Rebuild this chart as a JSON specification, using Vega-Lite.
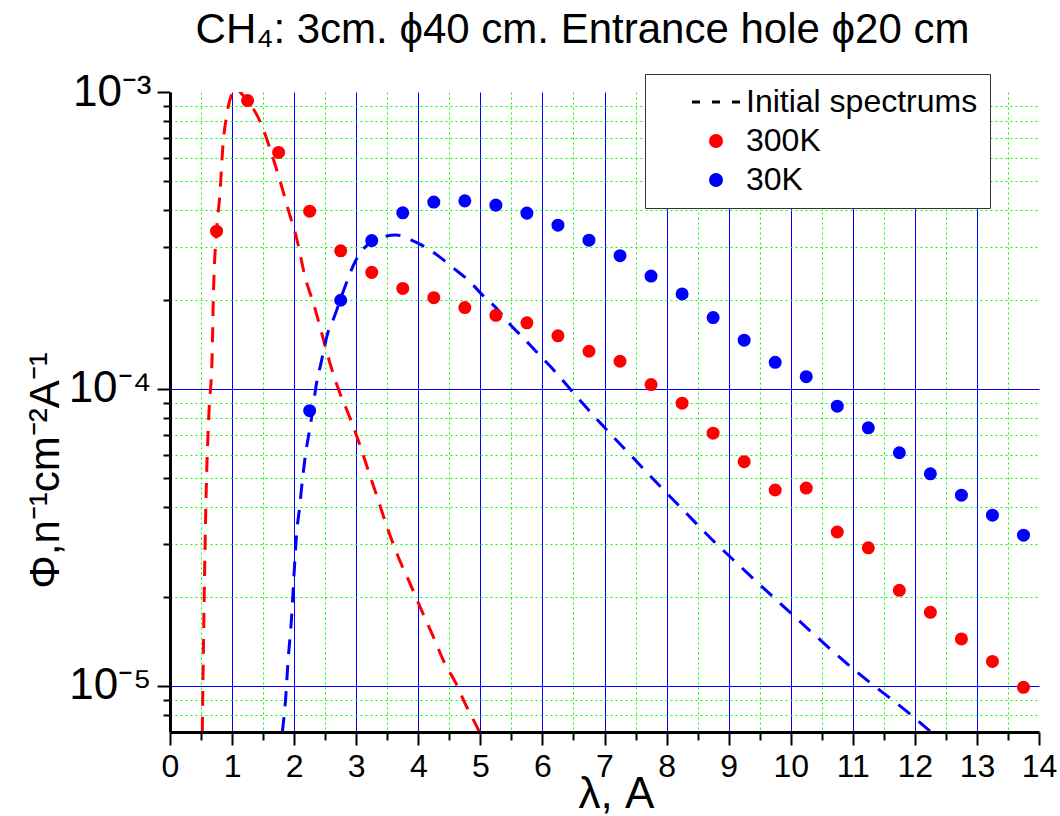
{
  "$schema": "https://vega.github.io/schema/vega-lite/v6.json",
  "width": 869,
  "height": 640,
  "autosize": "none",
  "padding": {"left": 170, "top": 92, "right": 21, "bottom": 84},
  "background": "white",
  "title": {
    "text": "CH₄: 3cm. ϕ40 cm. Entrance hole ϕ20 cm",
    "font": "Liberation Sans",
    "fontSize": 42,
    "fontWeight": "normal",
    "color": "black",
    "anchor": "middle",
    "baseline": "alphabetic",
    "dx": -22,
    "dy": 39,
    "offset": 24
  },
  "config": {
    "view": {"stroke": null},
    "axis": {"labelFont": "Liberation Sans", "titleFont": "Liberation Sans"}
  },
  "datasets": {
    "initial300": [
      {"lambda": 0.52, "flux": 7.0e-6},
      {"lambda": 0.53, "flux": 1.0e-5},
      {"lambda": 0.55, "flux": 1.94e-5},
      {"lambda": 0.58, "flux": 4.25e-5},
      {"lambda": 0.63, "flux": 8.5e-5},
      {"lambda": 0.677, "flux": 1.26e-4},
      {"lambda": 0.70, "flux": 2.1e-4},
      {"lambda": 0.75, "flux": 3.4e-4},
      {"lambda": 0.805, "flux": 4.56e-4},
      {"lambda": 0.85, "flux": 6.5e-4},
      {"lambda": 0.92, "flux": 8.5e-4},
      {"lambda": 1.0, "flux": 9.9e-4},
      {"lambda": 1.07, "flux": 1.04e-3},
      {"lambda": 1.13, "flux": 1.0e-3},
      {"lambda": 1.25, "flux": 9.36e-4},
      {"lambda": 1.466, "flux": 7.83e-4},
      {"lambda": 1.627, "flux": 6.29e-4},
      {"lambda": 1.777, "flux": 4.99e-4},
      {"lambda": 1.906, "flux": 4.01e-4},
      {"lambda": 2.046, "flux": 3.18e-4},
      {"lambda": 2.175, "flux": 2.39e-4},
      {"lambda": 2.325, "flux": 1.90e-4},
      {"lambda": 2.459, "flux": 1.50e-4},
      {"lambda": 2.593, "flux": 1.19e-4},
      {"lambda": 2.728, "flux": 9.8e-5},
      {"lambda": 2.868, "flux": 8.3e-5},
      {"lambda": 3.028, "flux": 6.76e-5},
      {"lambda": 3.189, "flux": 5.36e-5},
      {"lambda": 3.35, "flux": 4.25e-5},
      {"lambda": 3.51, "flux": 3.37e-5},
      {"lambda": 3.671, "flux": 2.74e-5},
      {"lambda": 3.885, "flux": 2.17e-5},
      {"lambda": 4.046, "flux": 1.81e-5},
      {"lambda": 4.233, "flux": 1.48e-5},
      {"lambda": 4.42, "flux": 1.20e-5},
      {"lambda": 4.608, "flux": 1.02e-5},
      {"lambda": 4.769, "flux": 8.6e-6},
      {"lambda": 4.957, "flux": 7.2e-6},
      {"lambda": 5.0, "flux": 6.9e-6}
    ],
    "initial30": [
      {"lambda": 1.81, "flux": 7.0e-6},
      {"lambda": 1.861, "flux": 8.97e-6},
      {"lambda": 1.904, "flux": 1.23e-5},
      {"lambda": 1.957, "flux": 1.68e-5},
      {"lambda": 2.0, "flux": 2.41e-5},
      {"lambda": 2.037, "flux": 3.2e-5},
      {"lambda": 2.09, "flux": 4.03e-5},
      {"lambda": 2.134, "flux": 4.96e-5},
      {"lambda": 2.187, "flux": 6.1e-5},
      {"lambda": 2.25, "flux": 7.3e-5},
      {"lambda": 2.30, "flux": 8.5e-5},
      {"lambda": 2.352, "flux": 1.02e-4},
      {"lambda": 2.432, "flux": 1.22e-4},
      {"lambda": 2.54, "flux": 1.54e-4},
      {"lambda": 2.647, "flux": 1.75e-4},
      {"lambda": 2.78, "flux": 2.10e-4},
      {"lambda": 2.996, "flux": 2.72e-4},
      {"lambda": 3.238, "flux": 3.13e-4},
      {"lambda": 3.452, "flux": 3.26e-4},
      {"lambda": 3.64, "flux": 3.30e-4},
      {"lambda": 3.88, "flux": 3.18e-4},
      {"lambda": 4.107, "flux": 3.01e-4},
      {"lambda": 4.338, "flux": 2.79e-4},
      {"lambda": 4.569, "flux": 2.55e-4},
      {"lambda": 4.80, "flux": 2.33e-4},
      {"lambda": 5.036, "flux": 2.07e-4},
      {"lambda": 5.28, "flux": 1.85e-4},
      {"lambda": 5.48, "flux": 1.65e-4},
      {"lambda": 5.70, "flux": 1.48e-4},
      {"lambda": 5.91, "flux": 1.33e-4},
      {"lambda": 6.13, "flux": 1.19e-4},
      {"lambda": 6.539, "flux": 9.5e-5},
      {"lambda": 6.964, "flux": 7.56e-5},
      {"lambda": 7.394, "flux": 6.07e-5},
      {"lambda": 7.83, "flux": 4.86e-5},
      {"lambda": 8.285, "flux": 3.88e-5},
      {"lambda": 8.727, "flux": 3.12e-5},
      {"lambda": 9.194, "flux": 2.52e-5},
      {"lambda": 9.90, "flux": 1.84e-5},
      {"lambda": 11.01, "flux": 1.14e-5},
      {"lambda": 11.98, "flux": 7.86e-6},
      {"lambda": 12.26, "flux": 7.0e-6}
    ],
    "measured": [
      {"lambda": 0.75, "flux": 3.40e-4, "series": "300K"},
      {"lambda": 1.25, "flux": 9.36e-4, "series": "300K"},
      {"lambda": 1.75, "flux": 6.26e-4, "series": "300K"},
      {"lambda": 2.25, "flux": 3.97e-4, "series": "300K"},
      {"lambda": 2.75, "flux": 2.92e-4, "series": "300K"},
      {"lambda": 3.25, "flux": 2.47e-4, "series": "300K"},
      {"lambda": 3.75, "flux": 2.18e-4, "series": "300K"},
      {"lambda": 4.25, "flux": 2.03e-4, "series": "300K"},
      {"lambda": 4.75, "flux": 1.88e-4, "series": "300K"},
      {"lambda": 5.25, "flux": 1.77e-4, "series": "300K"},
      {"lambda": 5.75, "flux": 1.67e-4, "series": "300K"},
      {"lambda": 6.25, "flux": 1.51e-4, "series": "300K"},
      {"lambda": 6.75, "flux": 1.34e-4, "series": "300K"},
      {"lambda": 7.25, "flux": 1.24e-4, "series": "300K"},
      {"lambda": 7.75, "flux": 1.035e-4, "series": "300K"},
      {"lambda": 8.25, "flux": 8.96e-5, "series": "300K"},
      {"lambda": 8.75, "flux": 7.10e-5, "series": "300K"},
      {"lambda": 9.25, "flux": 5.69e-5, "series": "300K"},
      {"lambda": 9.75, "flux": 4.57e-5, "series": "300K"},
      {"lambda": 10.25, "flux": 4.64e-5, "series": "300K"},
      {"lambda": 10.75, "flux": 3.30e-5, "series": "300K"},
      {"lambda": 11.25, "flux": 2.92e-5, "series": "300K"},
      {"lambda": 11.75, "flux": 2.10e-5, "series": "300K"},
      {"lambda": 12.25, "flux": 1.77e-5, "series": "300K"},
      {"lambda": 12.75, "flux": 1.44e-5, "series": "300K"},
      {"lambda": 13.25, "flux": 1.21e-5, "series": "300K"},
      {"lambda": 13.75, "flux": 9.9e-6, "series": "300K"},
      {"lambda": 2.25, "flux": 8.45e-5, "series": "30K"},
      {"lambda": 2.75, "flux": 1.99e-4, "series": "30K"},
      {"lambda": 3.25, "flux": 3.16e-4, "series": "30K"},
      {"lambda": 3.75, "flux": 3.92e-4, "series": "30K"},
      {"lambda": 4.25, "flux": 4.26e-4, "series": "30K"},
      {"lambda": 4.75, "flux": 4.30e-4, "series": "30K"},
      {"lambda": 5.25, "flux": 4.16e-4, "series": "30K"},
      {"lambda": 5.75, "flux": 3.91e-4, "series": "30K"},
      {"lambda": 6.25, "flux": 3.56e-4, "series": "30K"},
      {"lambda": 6.75, "flux": 3.17e-4, "series": "30K"},
      {"lambda": 7.25, "flux": 2.81e-4, "series": "30K"},
      {"lambda": 7.75, "flux": 2.40e-4, "series": "30K"},
      {"lambda": 8.25, "flux": 2.09e-4, "series": "30K"},
      {"lambda": 8.75, "flux": 1.74e-4, "series": "30K"},
      {"lambda": 9.25, "flux": 1.46e-4, "series": "30K"},
      {"lambda": 9.75, "flux": 1.23e-4, "series": "30K"},
      {"lambda": 10.25, "flux": 1.10e-4, "series": "30K"},
      {"lambda": 10.75, "flux": 8.75e-5, "series": "30K"},
      {"lambda": 11.25, "flux": 7.40e-5, "series": "30K"},
      {"lambda": 11.75, "flux": 6.10e-5, "series": "30K"},
      {"lambda": 12.25, "flux": 5.18e-5, "series": "30K"},
      {"lambda": 12.75, "flux": 4.39e-5, "series": "30K"},
      {"lambda": 13.25, "flux": 3.76e-5, "series": "30K"},
      {"lambda": 13.75, "flux": 3.22e-5, "series": "30K"}
    ]
  },
  "resolve": {"axis": {"x": "independent", "y": "independent"}},
  "layer": [
    {
      "data": {"name": "initial300"},
      "mark": {"type": "line", "color": "#ff0000", "strokeWidth": 3, "strokeDash": [15, 11], "interpolate": "monotone", "clip": true},
      "encoding": {
        "x": {
          "field": "lambda", "type": "quantitative",
          "scale": {"domain": [0, 14], "nice": false, "zero": false},
          "axis": {"orient": "bottom", "values": [1, 2, 3, 4, 5, 6, 7, 8, 9, 10, 11, 12, 13], "grid": true, "gridColor": "#0000ff", "gridWidth": 1, "gridOpacity": 1, "ticks": false, "labels": false, "domain": false, "title": null}
        },
        "y": {
          "field": "flux", "type": "quantitative",
          "scale": {"type": "log", "domain": [7e-6, 1e-3], "nice": false, "zero": false},
          "axis": {"orient": "left", "values": [1e-5, 1e-4], "grid": true, "gridColor": "#0000ff", "gridWidth": 1, "gridOpacity": 1, "ticks": false, "labels": false, "domain": false, "title": null}
        }
      }
    },
    {
      "data": {"name": "initial30"},
      "mark": {"type": "line", "color": "#0000ff", "strokeWidth": 3, "strokeDash": [15, 11], "interpolate": "monotone", "clip": true},
      "encoding": {
        "x": {
          "field": "lambda", "type": "quantitative",
          "axis": {"orient": "bottom", "values": [0.5, 1.5, 2.5, 3.5, 4.5, 5.5, 6.5, 7.5, 8.5, 9.5, 10.5, 11.5, 12.5, 13.5], "grid": true, "gridColor": "#00ff00", "gridDash": [2, 3], "gridWidth": 1, "gridOpacity": 1, "ticks": true, "tickSize": 8, "tickWidth": 2, "tickColor": "black", "labels": false, "domain": false, "title": null}
        },
        "y": {
          "field": "flux", "type": "quantitative",
          "axis": {"orient": "left", "values": [8e-6, 9e-6, 2e-5, 3e-5, 4e-5, 5e-5, 6e-5, 7e-5, 8e-5, 9e-5, 2e-4, 3e-4, 4e-4, 5e-4, 6e-4, 7e-4, 8e-4, 9e-4], "grid": true, "gridColor": "#00ff00", "gridDash": [2, 3], "gridWidth": 1, "gridOpacity": 1, "ticks": true, "tickSize": 7, "tickWidth": 2, "tickColor": "black", "labels": false, "domain": false, "title": null}
        }
      }
    },
    {
      "data": {"name": "measured"},
      "mark": {"type": "point", "filled": true, "size": 170, "opacity": 1},
      "encoding": {
        "x": {
          "field": "lambda", "type": "quantitative",
          "axis": {"orient": "bottom", "values": [0, 1, 2, 3, 4, 5, 6, 7, 8, 9, 10, 11, 12, 13, 14], "grid": false, "domainColor": "black", "domainWidth": 3, "tickColor": "black", "tickWidth": 2, "tickSize": 13, "labelFontSize": 32, "labelColor": "black", "labelPadding": 6, "labelFlush": false, "labelOverlap": false, "format": "d", "title": "λ, A", "titleFontSize": 44, "titleFontWeight": "normal", "titleColor": "black", "titleX": 446, "titleY": 75, "titleBaseline": "alphabetic", "zindex": 1}
        },
        "y": {
          "field": "flux", "type": "quantitative",
          "axis": {"orient": "left", "values": [1e-5, 1e-4, 1e-3], "grid": false, "domainColor": "black", "domainWidth": 3, "tickColor": "black", "tickWidth": 2, "tickSize": 13, "labelFontSize": 44, "labelColor": "black", "labelPadding": 6, "labelFlush": false, "labelOverlap": false, "labelBaseline": "middle", "labelExpr": "datum.value > 5e-4 ? '10⁻³' : datum.value > 5e-5 ? '10⁻⁴' : '10⁻⁵'", "title": "Φ,n⁻¹cm⁻²A⁻¹", "titleFontSize": 42, "titleFontWeight": "normal", "titleColor": "black", "titleX": -125, "titleY": 378, "titleAngle": 270, "titleAlign": "center", "titleBaseline": "middle", "zindex": 1}
        },
        "shape": {
          "field": "series", "type": "nominal",
          "scale": {
            "domain": ["Initial spectrums", "300K", "30K"],
            "range": ["M-3.43,-0.22H-2.29V0.22H-3.43Z M-0.57,-0.22H0.57V0.22H-0.57Z M2.29,-0.22H3.43V0.22H2.29Z", "circle", "circle"]
          },
          "legend": null
        },
        "color": {
          "field": "series", "type": "nominal",
          "scale": {"domain": ["Initial spectrums", "300K", "30K"], "range": ["black", "#ff0000", "#0000ff"]},
          "legend": {
            "title": null,
            "orient": "none",
            "legendX": 475,
            "legendY": -18,
            "direction": "vertical",
            "fillColor": "white",
            "strokeColor": "#333333",
            "padding": 12,
            "symbolSize": 196,
            "symbolOpacity": 1,
            "symbolOffset": 43,
            "rowPadding": 7,
            "labelFont": "Liberation Sans",
            "labelFontSize": 32,
            "labelColor": "black",
            "labelOffset": 14,
            "labelLimit": 400,
            "encode": {
              "legend": {
                "strokeWidth": {"value": 2}
              }
            }
          }
        }
      }
    }
  ]
}
